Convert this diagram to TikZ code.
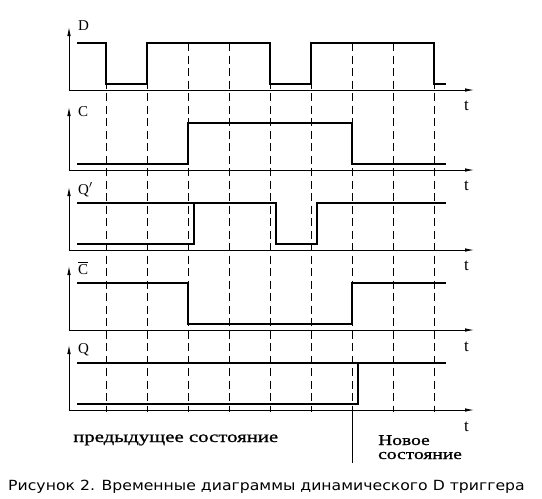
\documentclass[tikz,border=0pt]{standalone}
\usepackage{fontspec}
\setmainfont{Liberation Serif}
\newfontfamily\capfont[FakeStretch=1.12]{DejaVu Sans}
\newfontfamily\notefont[FakeStretch=1.3,FakeBold=1]{Liberation Serif}
\usepackage{tikz}
\usetikzlibrary{positioning,arrows.meta}

\begin{document}
\begin{tikzpicture}[
x=1pt, y=-1pt,
axis/.style={line width=0.8pt, -{Latex[length=9pt,width=3.5pt]}},
signal/.style={line width=2.4pt},
grid/.style={line width=0.8pt, dash pattern=on 8pt off 4.5pt},
siglabel/.style={anchor=base west, inner sep=0pt, font=\fontsize{15}{15}\selectfont},
tlabel/.style={anchor=base west, inner sep=0pt, font=\fontsize{17}{17}\selectfont},
note/.style={inner sep=0pt, align=left},
]
\useasboundingbox (0,0) rectangle (542,499);

%Axis origins
\coordinate (o1) at (69,90);
\coordinate (o2) at (69,170);
\coordinate (o3) at (69,250);
\coordinate (o4) at (69,330);
\coordinate (o5) at (69,410);

%Axis ends
\coordinate (e1) at (474,90);
\coordinate (e2) at (474,170);
\coordinate (e3) at (474,250);
\coordinate (e4) at (474,330);
\coordinate (e5) at (474,410);

%Axis tops
\coordinate (a1) at (69,27);
\coordinate (a2) at (69,107);
\coordinate (a3) at (69,187);
\coordinate (a4) at (69,266);
\coordinate (a5) at (69,345);

%Dashed time marks
\draw[grid] (106,43) -- (106,412);
\draw[grid] (147,43) -- (147,412);
\draw[grid] (188,43) -- (188,412);
\draw[grid] (229,43) -- (229,412);
\draw[grid] (270,43) -- (270,412);
\draw[grid] (311,43) -- (311,412);
\draw[grid] (352,43) -- (352,412);
\draw[grid] (393,43) -- (393,412);
\draw[grid] (434,43) -- (434,412);

%Axes
\draw[axis] (o1) -- (e1);
\draw[axis] (o2) -- (e2);
\draw[axis] (o3) -- (e3);
\draw[axis] (o4) -- (e4);
\draw[axis] (o5) -- (e5);
\draw[axis] (o1) -- (a1);
\draw[axis] (o2) -- (a2);
\draw[axis] (o3) -- (a3);
\draw[axis] (o4) -- (a4);
\draw[axis] (o5) -- (a5);

%Signal labels
\node[siglabel] (lD) at (78,30) {D};
\node[siglabel] (lC) at (78,116) {C};
\node[siglabel] (lQp) at (78,194) {Q$'$};
\node[siglabel] (lCn) at (78,274) {$\overline{\hbox{C}}$};
\node[siglabel] (lQ) at (78,353) {Q};

%Time labels
\node[tlabel] (t1) at (464,110) {t};
\node[tlabel] (t2) at (464,190) {t};
\node[tlabel] (t3) at (464,270) {t};
\node[tlabel] (t4) at (464,351) {t};
\node[tlabel] (t5) at (464,431) {t};

%Signals
\draw[signal] (77,43) -- (106,43) -- (106,84) -- (147,84) -- (147,43) -- (270,43)
  -- (270,84) -- (311,84) -- (311,43) -- (434,43) -- (434,84) -- (446,84);
\draw[signal] (77,164) -- (188,164) -- (188,123) -- (352,123) -- (352,164) -- (446,164);
\draw[signal] (77,203) -- (276,203) -- (276,244) -- (317,244) -- (317,203) -- (446,203);
\draw[signal] (77,244) -- (194,244) -- (194,203);
\draw[signal] (77,283) -- (188,283) -- (188,324) -- (352,324) -- (352,283) -- (446,283);
\draw[signal] (77,363) -- (446,363);
\draw[signal] (77,404) -- (358,404) -- (358,363);

%State boundary
\coordinate (b1) at (352,410);
\coordinate (b2) at (352,463);
\draw[line width=0.8pt] (b1) -- (b2);

%Notes
\node[note, anchor=base west, font=\notefont\fontsize{16}{16}\selectfont] (prev) at (73,442) {предыдущее состояние};
\node[note, anchor=base west, font=\notefont\fontsize{15}{15}\selectfont] (new1) at (378,445) {Новое};
\node[note, anchor=base west, font=\notefont\fontsize{15}{15}\selectfont] (new2) at (378,459) {состояние};

%Caption
\node[anchor=base west, inner sep=0pt, font=\capfont\fontsize{14}{14}\selectfont] (cap) at (8,490)
  {Рисунок 2. Временные диаграммы динамического D триггера};
\end{tikzpicture}
\end{document}
